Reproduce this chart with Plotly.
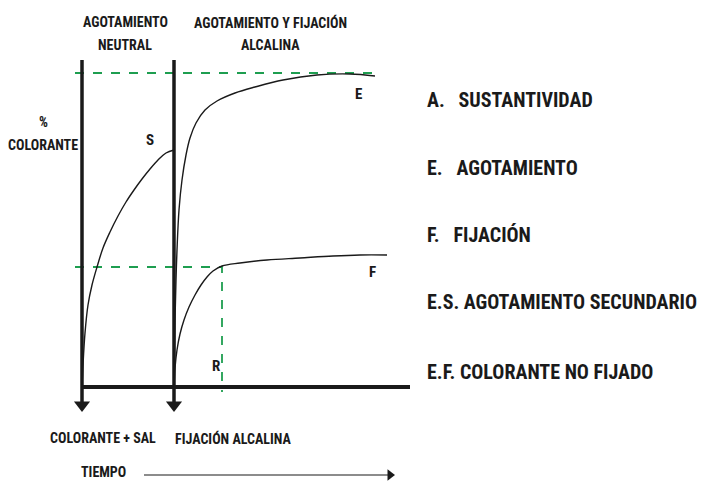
import plotly.graph_objects as go

# curves (x in px, y in px from top)
s_x = [82, 83, 85, 88, 92, 97, 103, 110, 118, 126, 134, 142, 150, 158, 166, 174]
s_y = [387, 365, 333, 305, 285, 267, 248, 232, 216, 202, 190, 179, 169, 160, 153, 150]

e_x = [174, 175, 176, 177, 179, 182, 186, 190, 196, 205, 217, 235, 255, 283, 317, 350, 375]
e_y = [387, 320, 280, 250, 210, 180, 155, 138, 123, 110, 101, 93, 87, 80, 75, 74, 76]

f_x = [174, 175, 177, 180, 184, 189, 195, 201, 207, 213, 222, 240, 267, 300, 333, 360, 387]
f_y = [387, 368, 350, 334, 320, 307, 295, 285, 277, 271, 266, 263, 260, 258, 256, 255, 255]

# reference guides
top_guide_x = [75, 375]
top_guide_y = [73, 73]
fix_guide_x = [75, 222, 222]
fix_guide_y = [267, 267, 392]

axis_left_x = [82, 82]
axis_mid_x = [174, 174]
axis_v_y = [60, 402]
base_x = [82, 410]
base_y = [387, 387]
time_x = [144, 390]
time_y = [475, 475]

curve_labels = ["S", "E", "F", "R"]
curve_label_x = [150, 358, 372, 216]
curve_label_y = [140, 94, 272, 366]

legend_items = ["A.   SUSTANTIVIDAD", "E.   AGOTAMIENTO", "F.   FIJACIÓN",
                "E.S. AGOTAMIENTO SECUNDARIO", "E.F. COLORANTE NO FIJADO"]
legend_y = [100, 168, 235, 302, 372]

FONT = "Roboto Condensed, Roboto, sans-serif"
INK = "#1a1a1a"
GREEN = "#1e9e50"
PAGE_MARGIN = 8  # the page body adds an 8px margin around the figure

fig = go.Figure()

def line(x, y, color=INK, width=1.5, dash="solid", shape="linear"):
    fig.add_trace(go.Scatter(x=x, y=y, mode="lines", hoverinfo="skip",
                             line=dict(color=color, width=width, dash=dash, shape=shape)))

# dashed guides
line(top_guide_x, top_guide_y, GREEN, 1.8, "dash")
line(fix_guide_x, fix_guide_y, GREEN, 1.8, "dash")

# axes
line(axis_left_x, axis_v_y, INK, 3.5)
line(axis_mid_x, axis_v_y, INK, 3.5)
line(base_x, base_y, INK, 4)
line(time_x, time_y, INK, 1.2)

# arrow heads
fig.add_trace(go.Scatter(x=[axis_left_x[0], axis_mid_x[0]], y=[405, 405], mode="markers",
                         hoverinfo="skip",
                         marker=dict(symbol="triangle-down", size=14, color=INK)))
fig.add_trace(go.Scatter(x=[time_x[1]], y=[time_y[0]], mode="markers", hoverinfo="skip",
                         marker=dict(symbol="triangle-right", size=10, color=INK)))

# curves
line(s_x, s_y, INK, 1.4, shape="spline")
line(e_x, e_y, INK, 1.4, shape="spline")
line(f_x, f_y, INK, 1.4, shape="spline")

ann = []
def txt(x, y, t, size=14, anchor="center"):
    ann.append(dict(x=x, y=y, text=t, showarrow=False, xanchor=anchor, yanchor="middle",
                    font=dict(family=FONT, size=size, color=INK, weight="bold")))

for t, x, y in zip(curve_labels, curve_label_x, curve_label_y):
    txt(x, y, t, 15)

txt(125, 22, "AGOTAMIENTO", 14)
txt(125, 45, "NEUTRAL", 14)
txt(270, 22, "AGOTAMIENTO Y FIJACIÓN", 14)
txt(270, 45, "ALCALINA", 14)
txt(43, 122, "%", 14)
txt(43, 145, "COLORANTE", 14)
txt(103, 438, "COLORANTE + SAL", 14)
txt(233, 438, "FIJACIÓN ALCALINA", 14)
txt(103, 472, "TIEMPO", 14)

for t, y in zip(legend_items, legend_y):
    txt(425, y, t, 20, "left")

fig.update_layout(
    width=709, height=502, margin=dict(l=0, r=0, t=0, b=0),
    paper_bgcolor="white", plot_bgcolor="white", showlegend=False,
    annotations=ann,
    xaxis=dict(range=[PAGE_MARGIN, 709 + PAGE_MARGIN], visible=False, fixedrange=True),
    yaxis=dict(range=[502 + PAGE_MARGIN, PAGE_MARGIN], visible=False, fixedrange=True),
)

fig.write_html("out.html")
